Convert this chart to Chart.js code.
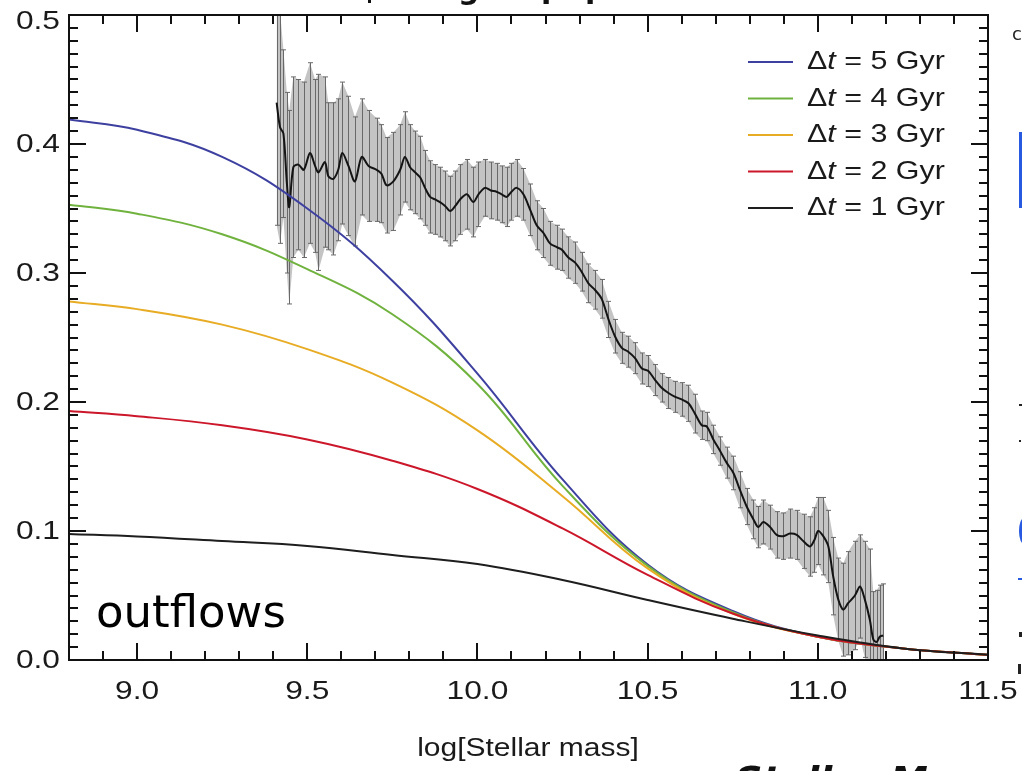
<!DOCTYPE html>
<html>
<head>
<meta charset="utf-8">
<script src="https://cdn.jsdelivr.net/npm/chart.js@4.4.1/dist/chart.umd.min.js"></script>
<style>
  html, body { margin: 0; padding: 0; background: #fff; }
  #wrap { width: 1022px; height: 771px; }
</style>
</head>
<body>
<div id="wrap"><canvas id="c" width="1022" height="771"></canvas></div>
<script>
// model curves, sampled along log stellar mass
const modelMass = [8.8, 9.0, 9.25, 9.5, 9.75, 10.0, 10.25, 10.5, 10.75, 11.0, 11.25, 11.5];
const dt5 = [0.419, 0.411, 0.390, 0.350, 0.294, 0.222, 0.140, 0.074, 0.038, 0.018, 0.009, 0.004];
const dt4 = [0.353, 0.346, 0.330, 0.303, 0.268, 0.214, 0.135, 0.073, 0.037, 0.018, 0.009, 0.004];
const dt3 = [0.278, 0.272, 0.260, 0.241, 0.215, 0.178, 0.127, 0.071, 0.036, 0.018, 0.009, 0.004];
const dt2 = [0.193, 0.189, 0.182, 0.171, 0.1545, 0.1326, 0.102, 0.066, 0.036, 0.018, 0.009, 0.004];
const dt1 = [0.0977, 0.0958, 0.0922, 0.0884, 0.0814, 0.0744, 0.062, 0.0465, 0.032, 0.019, 0.009, 0.004];

const modelLabels = ['5', '4', '3', '2', '1'];
const modelColors = ['rgb(62,64,160)', 'rgb(112,178,62)', 'rgb(232,172,36)', 'rgb(204,22,42)', 'rgb(30,30,30)'];

// observed running mean with 1-sigma errors
const obsMass = [
  9.410, 9.420, 9.430, 9.440, 9.447, 9.459, 9.474, 9.490, 9.508, 9.523,
  9.533, 9.552, 9.562, 9.577, 9.591, 9.603, 9.621, 9.640, 9.660, 9.680,
  9.704, 9.718, 9.733, 9.753, 9.773, 9.787, 9.802, 9.817, 9.832, 9.846,
  9.861, 9.876, 9.890, 9.905, 9.920, 9.935, 9.949, 9.969, 9.988, 10.003,
  10.022, 10.039, 10.056, 10.071, 10.086, 10.100, 10.115, 10.135, 10.155, 10.174,
  10.194, 10.213, 10.233, 10.248, 10.267, 10.287, 10.306, 10.326, 10.345, 10.365,
  10.385, 10.404, 10.424, 10.443, 10.463, 10.483, 10.502, 10.522, 10.541, 10.561,
  10.581, 10.600, 10.620, 10.639, 10.659, 10.674, 10.693, 10.713, 10.732, 10.752,
  10.771, 10.791, 10.811, 10.825, 10.840, 10.860, 10.879, 10.899, 10.918, 10.938,
  10.958, 10.977, 10.990, 11.001, 11.016, 11.031, 11.045, 11.060, 11.075, 11.089,
  11.109, 11.124, 11.138, 11.153, 11.163, 11.173, 11.182, 11.192
];
const obsMean = [
  0.432, 0.413, 0.408, 0.370, 0.351, 0.382, 0.384, 0.380, 0.393, 0.383,
  0.378, 0.386, 0.375, 0.373, 0.380, 0.393, 0.383, 0.371, 0.390, 0.383,
  0.380, 0.377, 0.368, 0.371, 0.380, 0.390, 0.382, 0.378, 0.374, 0.366,
  0.359, 0.357, 0.355, 0.352, 0.348, 0.352, 0.357, 0.361, 0.355, 0.361,
  0.366, 0.364, 0.363, 0.361, 0.359, 0.363, 0.366, 0.361, 0.349, 0.337,
  0.331, 0.323, 0.320, 0.318, 0.312, 0.308, 0.301, 0.292, 0.287, 0.280,
  0.264, 0.251, 0.242, 0.239, 0.234, 0.226, 0.224, 0.217, 0.211, 0.207,
  0.204, 0.202, 0.199, 0.191, 0.182, 0.181, 0.171, 0.162, 0.153, 0.145,
  0.132, 0.119, 0.109, 0.103, 0.107, 0.103, 0.097, 0.096, 0.098, 0.097,
  0.092, 0.088, 0.093, 0.100, 0.096, 0.088, 0.065, 0.047, 0.039, 0.044,
  0.050, 0.057, 0.047, 0.031, 0.016, 0.014, 0.018, 0.019
];
const obsErr = [
  0.095, 0.090, 0.065, 0.070, 0.075, 0.070, 0.066, 0.068, 0.070, 0.067,
  0.076, 0.066, 0.057, 0.059, 0.055, 0.055, 0.054, 0.050, 0.045, 0.043,
  0.040, 0.038, 0.037, 0.038, 0.035, 0.035, 0.033, 0.032, 0.032, 0.029,
  0.028, 0.027, 0.027, 0.027, 0.027, 0.027, 0.027, 0.027, 0.027, 0.025,
  0.022, 0.022, 0.022, 0.022, 0.023, 0.022, 0.022, 0.020, 0.020, 0.019,
  0.019, 0.017, 0.017, 0.016, 0.016, 0.016, 0.015, 0.015, 0.015, 0.015,
  0.014, 0.013, 0.012, 0.012, 0.012, 0.012, 0.012, 0.012, 0.011, 0.012,
  0.012, 0.013, 0.014, 0.015, 0.011, 0.011, 0.011, 0.011, 0.012, 0.013,
  0.014, 0.014, 0.015, 0.016, 0.017, 0.017, 0.018, 0.018, 0.019, 0.019,
  0.021, 0.023, 0.025, 0.026, 0.030, 0.028, 0.030, 0.032, 0.036, 0.040,
  0.042, 0.040, 0.045, 0.055, 0.037, 0.040, 0.040, 0.040
];

const xTickValues = [9.0, 9.5, 10.0, 10.5, 11.0, 11.5];
const yTickValues = [0.0, 0.1, 0.2, 0.3, 0.4, 0.5];

const toPoints = (xs, ys) => xs.map((x, i) => ({ x: x, y: ys[i] }));

// horizontally stretched text, the figure fonts run wide
const wideText = (ctx, text, x, y, font, sx, align) => {
  ctx.save();
  ctx.font = font;
  const w = ctx.measureText(text).width * sx;
  const left = align === 'center' ? x - w / 2 : (align === 'right' ? x - w : x);
  ctx.translate(left, y);
  ctx.scale(sx, 1);
  ctx.textAlign = 'left';
  ctx.textBaseline = 'middle';
  ctx.fillStyle = '#1a1a1a';
  ctx.fillText(text, 0, 0);
  ctx.restore();
  return w;
};

const errorBars = {
  id: 'errorBars',
  afterDatasetDraw(chart, args) {
    if (args.index !== 1) return;
    const { ctx, chartArea } = chart;
    const xs = chart.scales.x, ys = chart.scales.y;
    ctx.save();
    ctx.beginPath();
    ctx.rect(chartArea.left, chartArea.top, chartArea.right - chartArea.left, chartArea.bottom - chartArea.top);
    ctx.clip();
    ctx.strokeStyle = 'rgb(105,105,105)';
    ctx.lineWidth = 1;
    obsMass.forEach((m, i) => {
      const px = Math.round(xs.getPixelForValue(m)) + 0.5;
      const top = ys.getPixelForValue(obsMean[i] + obsErr[i]);
      const bot = ys.getPixelForValue(obsMean[i] - obsErr[i]);
      ctx.beginPath();
      ctx.moveTo(px, top); ctx.lineTo(px, bot);
      ctx.moveTo(px - 2.5, top); ctx.lineTo(px + 2.5, top);
      ctx.moveTo(px - 2.5, bot); ctx.lineTo(px + 2.5, bot);
      ctx.stroke();
    });
    ctx.restore();
  }
};

// bits of the surrounding slide that show at the page edges
const slideEdges = {
  id: 'slideEdges',
  afterDraw(chart) {
    const ctx = chart.ctx;
    ctx.save();
    ctx.fillStyle = '#111';
    ctx.font = 'bold 30px "DejaVu Sans", sans-serif';
    ctx.textBaseline = 'alphabetic';
    ctx.fillText('g', 458, -1);
    ctx.fillText('p', 541, -2);
    ctx.fillText('p', 585, -2);
    ctx.fillRect(368, 0, 3, 3);

    ctx.font = 'bold italic 38px "DejaVu Sans", sans-serif';
    ctx.fillText('Stellar Mass at', 735, 793);

    ctx.fillStyle = 'rgb(40,90,225)';
    ctx.fillRect(1019, 132, 3, 76);
    ctx.beginPath();
    ctx.ellipse(1024, 531, 5, 13, 0, 0, Math.PI * 2);
    ctx.fill();
    ctx.fillRect(1018, 578, 4, 2);
    ctx.fillStyle = '#222';
    ctx.fillRect(1019, 404, 3, 2);
    ctx.fillRect(1019, 440, 2, 2);
    ctx.fillRect(1019, 632, 3, 5);
    ctx.fillRect(1018, 664, 3, 10);
    ctx.font = '18px "DejaVu Sans", sans-serif';
    ctx.fillText('c', 1012, 40);
    ctx.restore();
  }
};

const frameAndText = {
  id: 'frameAndText',
  afterDraw(chart) {
    const { ctx, chartArea: a } = chart;
    const xs = chart.scales.x, ys = chart.scales.y;
    ctx.save();
    ctx.strokeStyle = '#111';
    ctx.lineWidth = 2;
    ctx.strokeRect(a.left, a.top, a.right - a.left, a.bottom - a.top);

    // inward ticks on all four sides
    ctx.beginPath();
    for (let k = 88; k <= 115; k++) {
      const px = Math.round(xs.getPixelForValue(k / 10));
      const len = k % 5 === 0 ? 17 : 9;
      ctx.moveTo(px, a.bottom); ctx.lineTo(px, a.bottom - len);
      ctx.moveTo(px, a.top); ctx.lineTo(px, a.top + len);
    }
    for (let k = 0; k <= 50; k++) {
      const py = Math.round(ys.getPixelForValue(k / 100));
      const len = k % 10 === 0 ? 17 : 9;
      ctx.moveTo(a.left, py); ctx.lineTo(a.left + len, py);
      ctx.moveTo(a.right, py); ctx.lineTo(a.right - len, py);
    }
    ctx.stroke();

    const tickFont = '26px "Liberation Sans", Arial, sans-serif';
    xTickValues.forEach(v => {
      wideText(ctx, v.toFixed(1), xs.getPixelForValue(v), 692, tickFont, 1.22, 'center');
    });
    yTickValues.forEach(v => {
      const py = Math.max(ys.getPixelForValue(v) + 1, 22);
      wideText(ctx, v.toFixed(1), 60, py, tickFont, 1.22, 'right');
    });
    wideText(ctx, 'log[Stellar mass]', 528, 749, '25px "Liberation Sans", Arial, sans-serif', 1.2, 'center');

    // legend
    const legFont = '26px "Liberation Sans", Arial, sans-serif';
    const legItal = 'italic 26px "Liberation Sans", Arial, sans-serif';
    modelLabels.forEach((lab, i) => {
      const y = 62 + i * 36.5;
      ctx.strokeStyle = modelColors[i];
      ctx.lineWidth = 2;
      ctx.beginPath();
      ctx.moveTo(748, y); ctx.lineTo(793, y);
      ctx.stroke();
      let x = 807;
      x += wideText(ctx, '\u0394', x, y, legFont, 1.17, 'left');
      x += wideText(ctx, 't', x, y, legItal, 1.17, 'left');
      wideText(ctx, ' = ' + lab + ' Gyr', x, y, legFont, 1.17, 'left');
    });

    ctx.font = '45px "DejaVu Sans", sans-serif';
    ctx.fillStyle = '#000';
    ctx.textAlign = 'left';
    ctx.textBaseline = 'alphabetic';
    ctx.fillText('outflows', 96, 627);
    ctx.restore();
  }
};

const modelSets = [dt5, dt4, dt3, dt2, dt1].map((vals, i) => ({
  label: '\u0394t = ' + modelLabels[i] + ' Gyr',
  data: toPoints(modelMass, vals),
  borderColor: modelColors[i],
  borderWidth: 2,
  pointRadius: 0,
  tension: 0.4,
  fill: false,
  order: 1 + (4 - i) * 0.1
}));

new Chart(document.getElementById('c'), {
  type: 'line',
  data: {
    datasets: [
      {
        label: 'upper',
        data: obsMass.map((m, i) => ({ x: m, y: obsMean[i] + obsErr[i] })),
        borderWidth: 0,
        pointRadius: 0,
        fill: false,
        order: 10
      },
      {
        label: 'lower',
        data: obsMass.map((m, i) => ({ x: m, y: obsMean[i] - obsErr[i] })),
        borderWidth: 0,
        pointRadius: 0,
        fill: '-1',
        backgroundColor: 'rgb(196,196,196)',
        order: 9
      },
      {
        label: 'mean',
        data: toPoints(obsMass, obsMean),
        borderColor: 'rgb(20,20,20)',
        borderWidth: 2,
        pointRadius: 0,
        tension: 0.3,
        fill: false,
        order: 5
      },
      ...modelSets
    ]
  },
  options: {
    responsive: false,
    animation: false,
    layout: { padding: { top: 15, right: 34, left: 0, bottom: 0 } },
    plugins: { legend: { display: false }, tooltip: { enabled: false } },
    scales: {
      x: {
        type: 'linear',
        min: 8.8,
        max: 11.5,
        grid: { display: false },
        border: { display: false },
        ticks: { display: false },
        afterFit: s => { s.height = 111; }
      },
      y: {
        type: 'linear',
        min: 0,
        max: 0.5,
        grid: { display: false },
        border: { display: false },
        ticks: { display: false },
        afterFit: s => { s.width = 69; }
      }
    }
  },
  plugins: [errorBars, frameAndText, slideEdges]
});
</script>
</body>
</html>
